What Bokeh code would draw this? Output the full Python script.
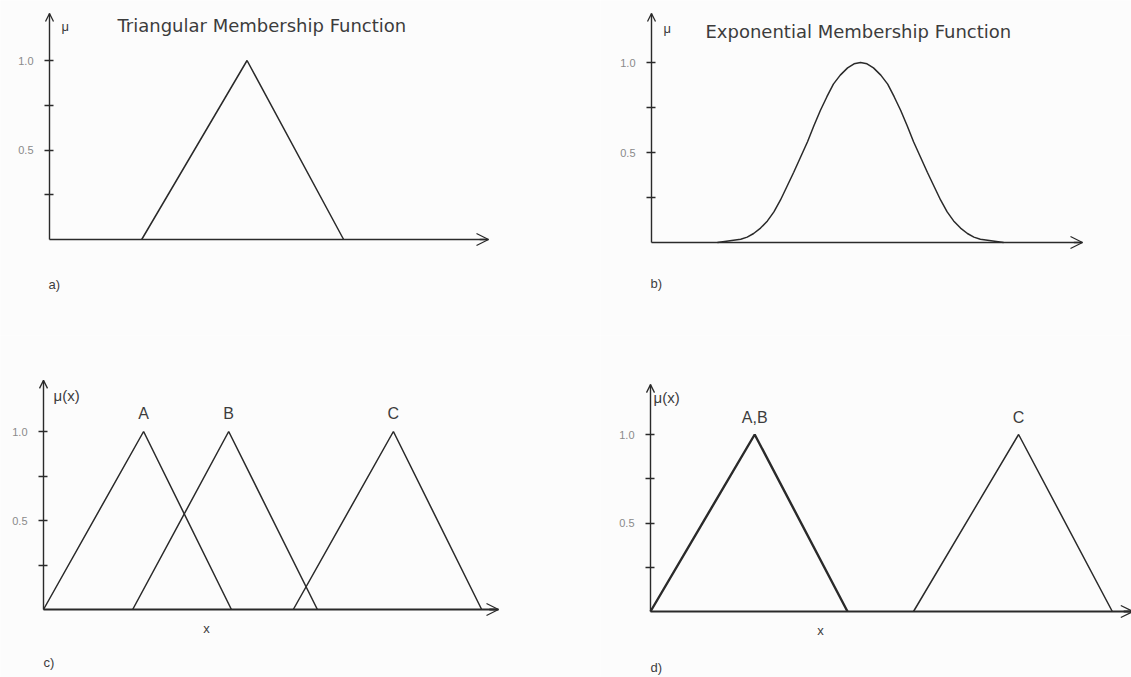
from bokeh.plotting import figure
from bokeh.layouts import column, row
from bokeh.models import (Range1d, LinearAxis, FixedTicker, Arrow, OpenHead, Label)
from bokeh.embed import file_html
from bokeh.resources import INLINE

# ---- data -------------------------------------------------------------
mu_ticks = [0.25, 0.5, 0.75, 1.0]
mu_tick_labels = {0.25: "", 0.5: "0.5", 0.75: "", 1.0: "1.0"}
tri_mu = [0.0, 1.0, 0.0]

# a) single triangular membership function (left foot, peak, right foot)
tri_a = [2.1, 4.5, 6.7]

# b) exponential (bell-shaped) membership function
exp_x = [1.53, 2.07, 2.22, 2.37, 2.53, 2.69, 2.84, 2.99, 3.14, 3.30, 3.46,
         3.62, 3.77, 3.92, 4.07, 4.22, 4.38, 4.55, 4.70, 4.85, 5.00, 5.15,
         5.32, 5.48, 5.63, 5.78, 5.93, 6.08, 6.24, 6.40, 6.56, 6.71, 6.86,
         7.01, 7.17, 7.33, 7.48, 7.63, 8.17]
exp_mu = [0.0, 0.018, 0.03, 0.05, 0.08, 0.12, 0.17, 0.235, 0.31, 0.39, 0.475,
          0.56, 0.65, 0.735, 0.81, 0.88, 0.93, 0.97, 0.993, 1.0, 0.993, 0.97,
          0.93, 0.88, 0.81, 0.735, 0.65, 0.56, 0.475, 0.39, 0.31, 0.235, 0.17,
          0.12, 0.08, 0.05, 0.03, 0.018, 0.0]

# c) three overlapping fuzzy sets
sets_c = ["A", "B", "C"]
tri_c = [[0.0, 2.2, 4.13], [1.96, 4.07, 6.02], [5.49, 7.69, 9.63]]

# d) merged sets
sets_d = ["A,B", "C"]
tri_d = [[0.0, 2.29, 4.33], [5.78, 8.09, 10.15]]

INK = "#2a2a2a"
TXT = "#3c3c3c"
TICK_TXT = "#8a8a8a"
BG = "#fcfcfc"


def panel(W, H, ox, oy, sx, sy):
    """Figure whose data origin sits at pixel (ox, oy), with sx/sy px per unit."""
    p = figure(width=W, height=H, output_backend="svg", toolbar_location=None,
               x_axis_type=None, y_axis_type=None,
               x_range=Range1d(-ox / sx, (W - ox) / sx),
               y_range=Range1d(-(H - oy) / sy, oy / sy))
    p.min_border = 0
    p.outline_line_color = None
    p.background_fill_color = BG
    p.border_fill_color = BG
    return p


def add_axes(p, xend, ytop, xw=1.5, yw=1.4):
    ya = LinearAxis(fixed_location=0, bounds=(0, ytop),
                    ticker=FixedTicker(ticks=mu_ticks),
                    major_label_overrides=mu_tick_labels)
    ya.axis_line_color = INK
    ya.axis_line_width = yw
    ya.major_tick_line_color = INK
    ya.major_tick_line_width = 1.6
    ya.major_tick_in = 4
    ya.major_tick_out = 5
    ya.minor_tick_line_color = None
    ya.major_label_standoff = 11
    ya.major_label_text_font = "Liberation Sans"
    ya.major_label_text_font_size = "11px"
    ya.major_label_text_color = TICK_TXT
    p.add_layout(ya, "left")

    xa = LinearAxis(fixed_location=0, bounds=(0, xend),
                    ticker=FixedTicker(ticks=[]))
    xa.axis_line_color = INK
    xa.axis_line_width = xw
    xa.major_tick_line_color = None
    xa.minor_tick_line_color = None
    xa.major_label_text_alpha = 0
    p.add_layout(xa, "below")

    p.add_layout(Arrow(end=OpenHead(size=8, line_color=INK, line_width=1.3),
                       x_start=0, y_start=ytop - 0.02, x_end=0, y_end=ytop,
                       line_color=INK, line_width=yw))
    p.add_layout(Arrow(end=OpenHead(size=12, line_color=INK, line_width=1.3),
                       x_start=xend - 0.2, y_start=0, x_end=xend, y_end=0,
                       line_color=INK, line_width=xw))


def text(p, x, y, s, size, color=TXT, align="left", font="Liberation Sans"):
    p.add_layout(Label(x=x, y=y, text=s, text_font=font,
                       text_font_size=size, text_color=color,
                       text_align=align, text_baseline="middle"))


# ---- a) triangular ----------------------------------------------------
sxa, sya = 43.9, 179.0
pa = panel(600, 335, 49, 239, sxa, sya)
add_axes(pa, 10.0, 1.263)
pa.line(tri_a, tri_mu, line_color=INK, line_width=1.5)
text(pa, 12 / sxa, 213 / sya, "μ", "13px")
text(pa, 68 / sxa, 214 / sya, "Triangular Membership Function", "18px",
     font="DejaVu Sans")
text(pa, -1 / sxa, -45 / sya, "a)", "13px")

# ---- b) exponential ---------------------------------------------------
sxb, syb = 43.1, 180.0
pb = panel(531, 335, 51, 242, sxb, syb)
add_axes(pb, 10.0, 1.272)
pb.line(exp_x, exp_mu, line_color=INK, line_width=1.5)
text(pb, 12 / sxb, 214 / syb, "μ", "13px")
text(pb, 54 / sxb, 211 / syb, "Exponential Membership Function", "18px",
     font="DejaVu Sans")
text(pb, -1 / sxb, -41 / syb, "b)", "13px")

# ---- c) overlapping sets ---------------------------------------------
sxc, syc = 45.5, 178.0
pc = panel(600, 342, 43, 274, sxc, syc)
add_axes(pc, 10.0, 1.287, xw=2.0)
for name, t in zip(sets_c, tri_c):
    pc.line(t, tri_mu, line_color=INK, line_width=1.5)
    text(pc, t[1], 1.0 + 18 / syc, name, "16px", align="center")
text(pc, 10 / sxc, 214 / syc, "μ(x)", "15px")
text(pc, 163 / sxc, -19 / syc, "x", "13px", align="center")
text(pc, 0, -53 / syc, "c)", "13px")

# ---- d) merged sets ---------------------------------------------------
sxd, syd = 45.5, 177.0
pd_ = panel(531, 342, 50, 276, sxd, syd)
add_axes(pd_, 10.6, 1.282, xw=2.0)
for name, t, w in zip(sets_d, tri_d, [2.4, 1.5]):
    pd_.line(t, tri_mu, line_color=INK, line_width=w)
    text(pd_, t[1], 1.0 + 17 / syd, name, "16px", align="center")
text(pd_, 3 / sxd, 214 / syd, "μ(x)", "15px")
text(pd_, 170 / sxd, -19 / syd, "x", "13px", align="center")
text(pd_, 0, -56 / syd, "d)", "13px")

layout = column(row(pa, pb), row(pc, pd_))
open("out.html", "w").write(file_html(layout, INLINE))
